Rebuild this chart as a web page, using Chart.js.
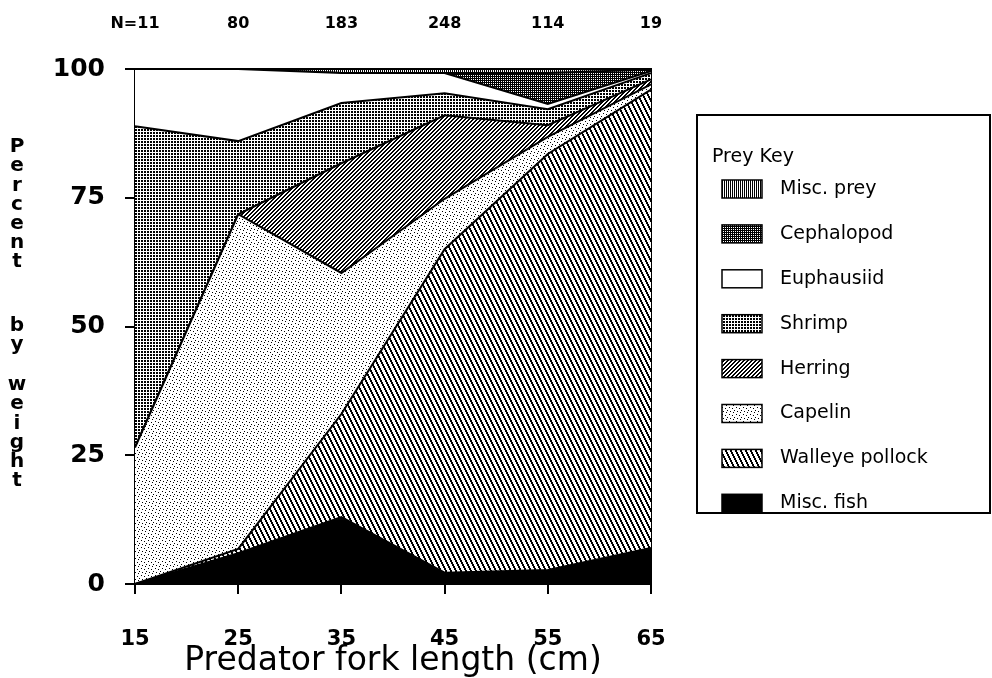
<!DOCTYPE html>
<html>
<head>
<meta charset="utf-8">
<script src="https://cdn.jsdelivr.net/npm/chart.js@4.4.1/dist/chart.umd.min.js"></script>
<style>
  html, body { margin: 0; padding: 0; background: #fff; }
  #wrap { width: 992px; height: 678px; }
</style>
</head>
<body>
<div id="wrap"><canvas id="chart" width="992" height="678"></canvas></div>
<script>
// --- Data (percent by weight, stacked bottom to top) ---
const forkLength = ['15', '25', '35', '45', '55', '65'];
const sampleSize = ['N=11', '80', '183', '248', '114', '19'];

const miscFish       = [0,    6,    13,   2.2,  2.7,  7];
const walleyePollock = [0,    0.8,  20,   62.8, 80.8, 89];
const capelin        = [26.5, 65,   27.4, 9.8,  3.3,  1];
const herring        = [0,    0,    21.3, 16.2, 2.3,  1];
const shrimp         = [62.4, 14.2, 11.7, 4.3,  3.1,  1.2];
const euphausiid     = [11.1, 14,   5.8,  3.9,  1.0,  0.4];
const cephalopod     = [0,    0,    0,    0,    6.0,  0.3];
const miscPrey       = [0,    0,    0.8,  0.8,  0.8,  0.1];

const yTicks = [0, 25, 50, 75, 100];

const canvas = document.getElementById('chart');
const ctx = canvas.getContext('2d');

// --- Fill patterns (pixel tiles) ---
function makePattern(w, h, pixels) {
  const tile = document.createElement('canvas');
  tile.width = w;
  tile.height = h;
  const t = tile.getContext('2d');
  t.fillStyle = '#fff';
  t.fillRect(0, 0, w, h);
  t.fillStyle = '#000';
  pixels.forEach(([x, y]) => t.fillRect(x, y, 1, 1));
  return ctx.createPattern(tile, 'repeat');
}

const backslash = [];
for (let y = 0; y < 10; y++) {
  const x0 = Math.floor(y / 2);
  backslash.push([x0, y], [(x0 + 1) % 5, y]);
}
const slash = [];
for (let y = 0; y < 4; y++) {
  const x0 = (3 - y + 4) % 4;
  slash.push([x0, y], [(x0 + 1) % 4, y]);
}

const patterns = {
  miscFish: '#000',
  walleye: makePattern(5, 10, backslash),
  capelin: makePattern(7, 7, [[1, 1], [4, 2], [6, 4], [2, 5], [5, 6]]),
  herring: makePattern(4, 4, slash),
  shrimp: makePattern(3, 3, [[0, 0], [1, 0], [0, 1], [1, 1]]),
  euphausiid: '#fff',
  cephalopod: makePattern(2, 2, [[0, 0], [1, 0], [0, 1]]),
  miscPrey: makePattern(2, 1, [[0, 0]]),
};

function layer(label, data, fill, first) {
  return {
    label, data,
    backgroundColor: fill,
    borderColor: '#000',
    borderWidth: 2,
    fill: first ? 'origin' : '-1',
    pointRadius: 0,
    tension: 0,
  };
}

const datasets = [
  layer('Misc. fish', miscFish, patterns.miscFish, true),
  layer('Walleye pollock', walleyePollock, patterns.walleye),
  layer('Capelin', capelin, patterns.capelin),
  layer('Herring', herring, patterns.herring),
  layer('Shrimp', shrimp, patterns.shrimp),
  layer('Euphausiid', euphausiid, patterns.euphausiid),
  layer('Cephalopod', cephalopod, patterns.cephalopod),
  layer('Misc. prey', miscPrey, patterns.miscPrey),
];

// --- Y title (stacked letters) + boxed legend ---
const yTitleWords = ['Percent', 'by', 'weight'];
const wordStarts = [147, 326, 385];

const decorations = {
  id: 'decorations',
  afterDraw(chart) {
    const c = chart.ctx;
    c.save();
    c.fillStyle = '#000';
    c.textAlign = 'center';
    c.textBaseline = 'middle';
    c.font = 'bold 20px "DejaVu Sans"';
    yTitleWords.forEach((word, wi) => {
      [...word].forEach((ch, i) => c.fillText(ch, 17, wordStarts[wi] + i * 19.2));
    });

    // legend box
    c.strokeStyle = '#000';
    c.lineWidth = 2;
    c.strokeRect(697, 115, 293, 398);
    c.textAlign = 'left';
    c.font = '19px "DejaVu Sans"';
    c.fillText('Prey Key', 712, 157);
    const items = chart.data.datasets.slice().reverse();
    items.forEach((ds, i) => {
      const y = 189 + i * 44.9;
      c.fillStyle = ds.backgroundColor;
      c.fillRect(722, y - 9, 40, 18);
      c.lineWidth = 1.5;
      c.strokeRect(722, y - 9, 40, 18);
      c.fillStyle = '#000';
      c.fillText(ds.label, 780, y);
    });
    c.restore();
  },
};

new Chart(canvas, {
  type: 'line',
  data: { labels: forkLength, datasets },
  options: {
    responsive: false,
    animation: false,
    events: [],
    layout: { padding: { left: 50, right: 341, top: 0, bottom: 0 } },
    plugins: { legend: { display: false }, tooltip: { enabled: false } },
    scales: {
      x: {
        type: 'category',
        offset: false,
        grid: { display: true, drawOnChartArea: false, drawTicks: true, tickLength: 10, color: '#000', lineWidth: 2 },
        border: { display: true, color: '#000', width: 2 },
        ticks: { color: '#000', font: { family: 'DejaVu Sans', weight: 'bold', size: 21 }, padding: 33, maxRotation: 0 },
        title: {
          display: true,
          text: 'Predator fork length (cm)',
          color: '#000',
          font: { family: 'DejaVu Sans', size: 33, lineHeight: 1 },
          padding: { top: 0, bottom: 0 },
        },
        afterFit: (scale) => { scale.height = 94; },
      },
      x2: {
        type: 'category',
        labels: sampleSize,
        position: 'top',
        offset: false,
        grid: { display: false, drawTicks: false },
        border: { display: true, color: '#000', width: 3 },
        ticks: { color: '#000', font: { family: 'DejaVu Sans', weight: 'bold', size: 16 }, padding: 36, maxRotation: 0 },
        afterFit: (scale) => { scale.height = 69; },
      },
      y: {
        stacked: true,
        min: 0,
        max: 100,
        afterBuildTicks: (scale) => { scale.ticks = yTicks.map((v) => ({ value: v })); },
        grid: { display: true, drawOnChartArea: false, drawTicks: true, tickLength: 10, color: '#000', lineWidth: 2 },
        border: { display: true, color: '#000', width: 2 },
        ticks: { color: '#000', font: { family: 'DejaVu Sans', weight: 'bold', size: 25 }, padding: 20 },
        afterFit: (scale) => { scale.width = 85; },
      },
      y2: {
        position: 'right',
        min: 0,
        max: 100,
        grid: { display: false },
        ticks: { display: false },
        border: { display: true, color: '#000', width: 2 },
        afterFit: (scale) => { scale.width = 0; },
      },
    },
  },
  plugins: [decorations],
});
</script>
</body>
</html>
